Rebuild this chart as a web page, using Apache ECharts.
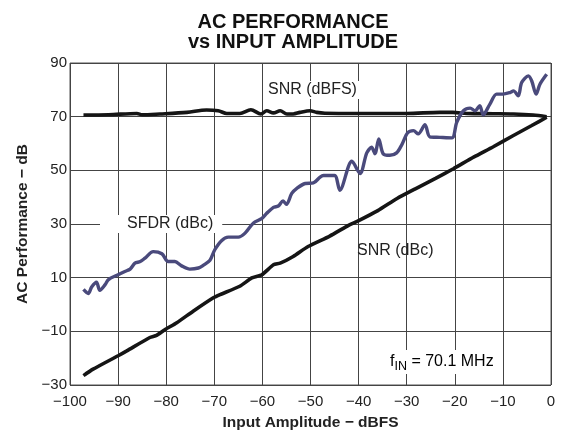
<!DOCTYPE html>
<html><head><meta charset="utf-8">
<script src="https://cdn.jsdelivr.net/npm/echarts@6/dist/echarts.min.js"></script>
<style>html,body{margin:0;padding:0;background:#fff}#c{width:568px;height:436px}</style>
</head><body><div id="c"></div>
<script>
const xTicks = [-100,-90,-80,-70,-60,-50,-40,-30,-20,-10,0];
const yTicks = [-30,-10,10,30,50,70,90];

const snrFsX = [-97.2,-92,-86.1,-85,-81.3,-75.7,-71.6,-69.2,-67.4,-64.7,-62.4,-60.3,-59.1,-57.7,-56.3,-54.9,-53.6,-52.2,-50.1,-48.7,-47,-40,-30,-23.1,-20.4,-17.5,-12,-7.8,-3.7,-0.9];
const snrFsY = [70.6,70.7,71.2,70.7,71.0,71.6,72.5,72.2,71.2,71.2,72.6,71.0,72.2,71.4,72.2,71.0,71.0,71.6,72.2,71.6,71.3,71.2,71.2,71.6,71.6,71.2,71.1,71.0,70.6,70.0];

const sfdrX = [-97.2,-96.2,-95.5,-94.5,-93.8,-92.7,-92.0,-90,-88.6,-87.5,-86.5,-85.4,-84.4,-82.7,-80.9,-79.6,-78.2,-76.8,-75.1,-73.3,-72.3,-70.9,-69.9,-68.5,-67.1,-65.0,-63.6,-61.9,-60.1,-59.1,-57.7,-56.7,-55.7,-55.0,-53.9,-52.9,-51.1,-49.4,-48.0,-47.3,-45.0,-43.9,-41.4,-39.7,-38.3,-37.3,-36.6,-35.8,-34.9,-33.5,-32.1,-31.0,-29.8,-28.6,-27.6,-26.2,-25.2,-23.1,-20.6,-19.6,-18.2,-16.8,-15.8,-14.8,-14.1,-12.7,-11.3,-10.0,-8.5,-7.8,-6.8,-6.1,-4.7,-4.0,-3.1,-2.3,-0.9];
const sfdrY = [5.6,4.1,6.5,8.3,5.3,7.4,9.3,11.1,12.3,13.2,15.4,16.0,17.3,19.7,18.9,16.0,16.0,14.4,13.2,13.6,14.6,16.5,20.4,23.8,25.1,25.1,26.6,30.3,32.1,34.0,36.2,36.7,38.6,37.3,41.4,43.2,45.1,45.3,47.5,48.1,48.1,42.6,53.4,48.8,56.5,58.6,56.2,61.7,56.2,55.6,56.5,59.6,64.0,64.8,63.6,67.0,62.5,62.3,62.1,67.9,72.2,73.2,72.2,74.1,70.7,74.7,78.4,78.4,79.0,79.6,77.8,82.7,85.2,83.3,78.4,82.1,85.8];

const snrCX = [-97.2,-95.2,-90,-88.2,-83.4,-82,-80.2,-77.8,-74.4,-70.2,-68.8,-64.7,-62.2,-60.1,-57.7,-56.3,-53.6,-50.5,-46,-42,-40.4,-36,-32,-28,-24,-20.3,-16,-12,-8,-4,-0.9];
const snrCY = [-26.5,-24.1,-19.1,-17.3,-12.3,-11.5,-9.3,-6.8,-2.5,2.5,3.7,6.8,9.9,11.1,14.8,15.4,17.9,21.6,25.5,29.6,30.9,35,39.5,43.3,47,50.6,55,58.8,62.8,66.7,69.8];

const pairs = (xs, ys) => xs.map((x, i) => [x, ys[i]]);
const minus = v => String(v).replace('-', '\u2212');
const FONT = '"Liberation Sans", Arial, sans-serif';
const LBL = 16;

const chart = echarts.init(document.getElementById('c'), null, {renderer: 'canvas'});
chart.setOption({
  animation: false,
  backgroundColor: '#fff',
  title: {
    text: 'AC PERFORMANCE\nvs INPUT AMPLITUDE',
    left: 288, top: 7, textAlign: 'center',
    textStyle: {fontFamily: FONT, fontWeight: 'bold', fontSize: 20, lineHeight: 20, color: '#111'}
  },
  grid: {left: 70, right: 17, top: 63, bottom: 49, show: true, borderColor: '#555', borderWidth: 1},
  xAxis: {
    type: 'value', min: xTicks[0], max: xTicks[xTicks.length - 1], interval: 10,
    name: 'Input Amplitude \u2212 dBFS', nameLocation: 'middle', nameGap: 30,
    nameTextStyle: {fontFamily: FONT, fontWeight: 'bold', fontSize: 15.5, color: '#222'},
    axisLine: {show: false}, axisTick: {show: false},
    axisLabel: {fontFamily: FONT, fontSize: 15, color: '#222', margin: 9, formatter: minus},
    splitLine: {show: true, lineStyle: {color: '#444', width: 1}}
  },
  yAxis: {
    type: 'value', min: yTicks[0], max: yTicks[yTicks.length - 1], interval: 20,
    name: 'AC Performance \u2212 dB', nameLocation: 'middle', nameGap: 37, nameRotate: 90,
    nameTextStyle: {fontFamily: FONT, fontWeight: 'bold', fontSize: 15.5, color: '#222'},
    axisLine: {show: false}, axisTick: {show: false},
    axisLabel: {fontFamily: FONT, fontSize: 15, color: '#222', margin: 3, formatter: minus},
    splitLine: {show: true, lineStyle: {color: '#444', width: 1}}
  },
  graphic: [
    {type: 'text', left: 265, top: 81, z: 10, style: {text: 'SNR (dBFS)', fontFamily: FONT, fontSize: LBL, fill: '#222', backgroundColor: '#fff', padding: [1, 3]}},
    {type: 'text', left: 100, top: 215, z: 10, style: {text: 'SFDR (dBc)', fontFamily: FONT, fontSize: LBL, fill: '#222', backgroundColor: '#fff', padding: [1, 9, 1, 27]}},
    {type: 'text', left: 357, top: 243, z: 10, style: {text: 'SNR (dBc)', fontFamily: FONT, fontSize: LBL, fill: '#222'}},
    {type: 'text', left: 386, top: 350, z: 10, style: {
      text: '{a|f}{b|IN}{a| = 70.1 MHz}', backgroundColor: '#fff', padding: [1, 4],
      rich: {a: {fontFamily: FONT, fontSize: LBL, color: '#222'}, b: {fontFamily: FONT, fontSize: 12.5, color: '#222', padding: [9, 0, 0, 0]}}
    }}
  ],
  series: [
    {type: 'line', name: 'SNR (dBFS)', data: pairs(snrFsX, snrFsY), showSymbol: false, smooth: 0.3, lineStyle: {color: '#151515', width: 3.6}, z: 3},
    {type: 'line', name: 'SNR (dBc)', data: pairs(snrCX, snrCY), showSymbol: false, smooth: 0.2, lineStyle: {color: '#151515', width: 3.6}, z: 3},
    {type: 'line', name: 'SFDR (dBc)', data: pairs(sfdrX, sfdrY), showSymbol: false, smooth: 0.3, lineStyle: {color: '#4a4a7c', width: 3.4}, z: 4}
  ]
});
</script></body></html>
